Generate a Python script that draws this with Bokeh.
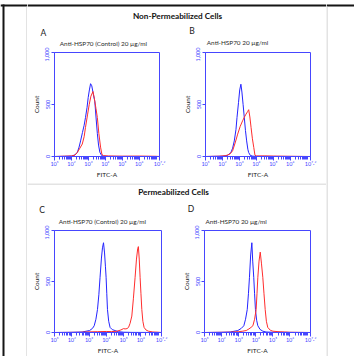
import numpy as np
from bokeh.plotting import figure
from bokeh.layouts import row, column
from bokeh.models import Range1d, FixedTicker
from bokeh.embed import file_html
from bokeh.resources import INLINE
from bokeh.core.properties import value

# ---------------- data ----------------
x_major_ticks = [1, 2, 3, 4, 5, 6, 7.2]
x_tick_labels = ["10¹", "10²", "10³", "10⁴", "10⁵", "10⁶", "10⁷·²"]
x_decades = [1, 2, 3, 4, 5, 6]
y_ticks = [0, 500, 1000]
y_tick_labels = ["0", "500", "1,000"]

section_titles = ["Non-Permeabilized Cells", "Permeabilized Cells"]
panel_letters = ["A", "B", "C", "D"]
panel_subtitles = ["Anti-HSP70 (Control) 20 µg/ml", "Anti-HSP70  20 µg/ml",
                   "Anti-HSP70 (Control) 20 µg/ml", "Anti-HSP70  20 µg/ml"]
x_axis_label = "FITC-A"
y_axis_label = "Count"

# log10(FITC-A) positions and counts
a_blue_log = [1.0, 1.6, 2.0, 2.2, 2.35, 2.45, 2.54, 2.65, 2.75, 2.83, 2.92, 2.99, 3.06, 3.13, 3.2, 3.28, 3.38, 3.45, 3.53, 3.6, 3.68, 3.78, 3.9, 4.2, 7.2]
a_blue_count = [0, 2, 4, 15, 40, 90, 150, 230, 300, 375, 470, 567, 640, 700, 680, 610, 530, 380, 220, 110, 40, 10, 3, 1, 0]
a_red_log = [1.0, 1.6, 2.0, 2.2, 2.35, 2.5, 2.64, 2.75, 2.83, 2.95, 3.05, 3.15, 3.27, 3.35, 3.45, 3.53, 3.62, 3.72, 3.8, 3.9, 4.2, 5.0, 6.0, 7.0, 7.2]
a_red_count = [0, 3, 5, 12, 40, 80, 120, 190, 280, 400, 500, 580, 625, 560, 460, 375, 220, 90, 20, 8, 5, 3, 4, 2, 0]

b_blue_log = [1.0, 2.0, 2.3, 2.5, 2.6, 2.7, 2.8, 2.86, 2.95, 3.02, 3.09, 3.15, 3.22, 3.29, 3.36, 3.43, 3.5, 3.55, 3.65, 3.8, 4.2, 7.2]
b_blue_count = [0, 3, 10, 38, 80, 150, 260, 375, 520, 640, 695, 620, 500, 375, 250, 150, 70, 38, 10, 3, 1, 0]
b_red_log = [1.0, 1.8, 2.2, 2.45, 2.6, 2.75, 2.9, 3.05, 3.19, 3.3, 3.39, 3.48, 3.55, 3.62, 3.69, 3.77, 3.85, 3.92, 4.0, 4.5, 5.0, 6.0, 7.2]
b_red_count = [0, 3, 8, 25, 55, 130, 215, 290, 343, 380, 407, 430, 450, 380, 280, 170, 87, 13, 5, 6, 4, 2, 0]

c_blue_log = [1.0, 2.0, 2.6, 3.03, 3.2, 3.3, 3.4, 3.49, 3.57, 3.64, 3.72, 3.78, 3.84, 3.9, 3.95, 3.99, 4.03, 4.07, 4.14, 4.22, 4.35, 4.51, 4.7, 5.0, 5.5, 7.2]
c_blue_count = [0, 2, 5, 19, 40, 66, 130, 225, 370, 541, 730, 830, 880, 780, 650, 541, 380, 225, 110, 50, 28, 19, 8, 3, 1, 0]
c_red_log = [1.0, 2.5, 3.0, 3.5, 4.0, 4.3, 4.61, 4.85, 5.0, 5.09, 5.2, 5.29, 5.38, 5.48, 5.57, 5.67, 5.75, 5.82, 5.86, 5.91, 5.96, 6.01, 6.06, 6.12, 6.19, 6.3, 6.44, 6.7, 7.0, 7.2]
c_red_count = [0, 2, 6, 8, 10, 9, 12, 25, 38, 35, 38, 50, 90, 161, 330, 541, 720, 820, 842, 720, 541, 380, 225, 110, 50, 25, 13, 5, 3, 0]

d_blue_log = [1.0, 2.0, 2.5, 2.95, 3.15, 3.3, 3.4, 3.5, 3.57, 3.63, 3.7, 3.77, 3.82, 3.88, 3.93, 3.98, 4.05, 4.12, 4.25, 4.41, 4.6, 5.0, 7.2]
d_blue_count = [0, 2, 5, 19, 40, 66, 130, 225, 380, 541, 760, 880, 700, 541, 380, 225, 120, 66, 30, 13, 5, 2, 0]
d_red_log = [1.0, 2.5, 3.0, 3.2, 3.44, 3.6, 3.72, 3.83, 3.93, 4.02, 4.07, 4.12, 4.19, 4.26, 4.33, 4.41, 4.48, 4.55, 4.62, 4.7, 4.85, 5.0, 5.3, 5.68, 6.0, 7.2]
d_red_count = [0, 3, 8, 12, 19, 35, 50, 66, 130, 225, 380, 541, 700, 788, 680, 541, 380, 225, 110, 50, 22, 13, 8, 5, 2, 0]

# ---------------- styles ----------------
AXIS_BLUE = "#4646ff"
LINE_BLUE = "#2424ff"
LINE_RED = "#ff2d2d"
GRAY = "#c8c8c8"
BLACK = "#151515"
FONT = "Lato"

minor_ticks = [d + float(np.log10(k)) for d in x_decades for k in range(2, 10)] + [7.0]


def panel(w, h, bl, br, bt, bb, blue, red):
    p = figure(width=w, height=h, x_range=Range1d(1, 7.2), y_range=Range1d(0, 1000),
               output_backend="svg", toolbar_location=None,
               min_border_left=bl, min_border_right=br, min_border_top=bt, min_border_bottom=bb)
    p.grid.visible = False
    p.outline_line_color = AXIS_BLUE
    p.outline_line_alpha = 1.0
    p.outline_line_width = 1

    xa = p.xaxis[0]
    xa.ticker = FixedTicker(ticks=x_major_ticks, minor_ticks=minor_ticks)
    xa.major_label_overrides = {t: l for t, l in zip(x_major_ticks, x_tick_labels)}
    xa.axis_line_color = AXIS_BLUE
    xa.major_tick_line_color = AXIS_BLUE
    xa.minor_tick_line_color = AXIS_BLUE
    xa.major_tick_in = 0
    xa.major_tick_out = 4
    xa.minor_tick_in = 0
    xa.minor_tick_out = 3
    xa.major_label_text_color = AXIS_BLUE
    xa.major_label_text_font = FONT
    xa.major_label_text_font_size = "5.5px"
    xa.major_label_standoff = 0
    xa.axis_label = x_axis_label
    xa.axis_label_text_font = FONT
    xa.axis_label_text_font_size = "6.5px"
    xa.axis_label_text_font_style = "normal"
    xa.axis_label_text_color = "#222222"
    xa.axis_label_standoff = 1

    ya = p.yaxis[0]
    ya.ticker = FixedTicker(ticks=y_ticks, minor_ticks=[])
    ya.major_label_overrides = {t: l for t, l in zip(y_ticks, y_tick_labels)}
    ya.major_label_orientation = "vertical"
    ya.axis_line_color = AXIS_BLUE
    ya.major_tick_line_color = AXIS_BLUE
    ya.major_tick_in = 0
    ya.major_tick_out = 3
    ya.minor_tick_line_color = None
    ya.major_label_text_color = AXIS_BLUE
    ya.major_label_text_font = FONT
    ya.major_label_text_font_size = "5.5px"
    ya.major_label_standoff = 2
    ya.axis_label = y_axis_label
    ya.axis_label_text_font = FONT
    ya.axis_label_text_font_size = "6.5px"
    ya.axis_label_text_font_style = "normal"
    ya.axis_label_text_color = "#222222"
    ya.axis_label_standoff = 3

    p.line(blue[0], blue[1], line_color=LINE_BLUE, line_width=1)
    p.line(red[0], red[1], line_color=LINE_RED, line_width=1)
    return p


def deco(w, h, x0, y0, fill="white"):
    f = figure(width=w, height=h, x_range=Range1d(x0, x0 + w), y_range=Range1d(y0 + h, y0),
               output_backend="svg", toolbar_location=None, min_border=0,
               x_axis_location=None, y_axis_location=None, outline_line_color=None,
               background_fill_color=fill, border_fill_color=fill)
    f.grid.visible = False
    return f


def header(f, title, title_xy, letters, letter_xys, subs, sub_xys):
    f.text(x=[title_xy[0]], y=[title_xy[1]], text=[title], text_font=value(FONT), text_font_style="bold",
           text_font_size="8.2px", text_align="center", text_baseline="middle", text_color="#111111")
    f.text(x=[p[0] for p in letter_xys], y=[p[1] for p in letter_xys], text=letters, text_font=value(FONT),
           text_font_size="8.5px", text_align="center", text_baseline="middle", text_color="#1a1a1a")
    f.text(x=[p[0] for p in sub_xys], y=[p[1] for p in sub_xys], text=subs, text_font=value(FONT),
           text_font_size="6.4px", text_align="left", text_baseline="middle", text_color="#2a2a2a")


# page-pixel layout: left strip 0-27, middle 27-326, right strip 326-354; body 0-356, bottom bar 356-358
ls = deco(27, 356, 0, 0)
ls.quad(left=[0, 2, 26], right=[27, 4, 27], top=[4, 4, 6], bottom=[6, 356, 356],
        fill_color=[BLACK, BLACK, GRAY], line_color=None)
rs = deco(28, 356, 326, 0)
rs.quad(left=[326, 326], right=[354, 327], top=[4, 6], bottom=[6, 356],
        fill_color=[BLACK, GRAY], line_color=None)

h1 = deco(299, 47, 27, 0)
h1.quad(left=[27], right=[326], top=[4], bottom=[6], fill_color=BLACK, line_color=None)
header(h1, section_titles[0], (177, 15), panel_letters[:2], [(43, 32), (191.5, 30.5)],
       panel_subtitles[:2], [(59.3, 42.7), (206.3, 42)])

h2 = deco(299, 42, 27, 183)
h2.quad(left=[27], right=[326], top=[183], bottom=[184], fill_color=GRAY, line_color=None)
header(h2, section_titles[1], (173, 191.3), panel_letters[2:], [(41.5, 209.7), (190.5, 208.7)],
       panel_subtitles[2:], [(58.3, 220.7), (205, 220.7)])

botbar = deco(354, 2, 0, 356, fill=BLACK)

pa = panel(150, 136, 27, 18, 5, 27, (a_blue_log, a_blue_count), (a_red_log, a_red_count))
pb = panel(149, 136, 28, 16, 5, 27, (b_blue_log, b_blue_count), (b_red_log, b_red_count))
pc = panel(150, 131, 27, 16, 5, 21, (c_blue_log, c_blue_count), (c_red_log, c_red_count))
pd = panel(149, 131, 27, 16, 5, 21, (d_blue_log, d_blue_count), (d_red_log, d_red_count))

middle = column(h1, row(pa, pb), h2, row(pc, pd))
layout = column(row(ls, middle, rs), botbar)

open("out.html", "w").write(file_html(layout, INLINE))
